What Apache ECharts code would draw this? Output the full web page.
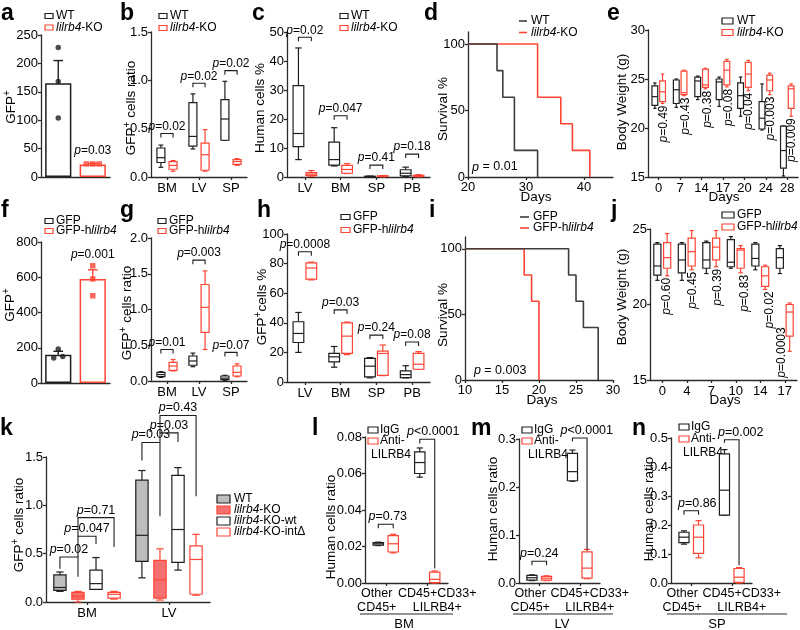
<!DOCTYPE html>
<html><head><meta charset="utf-8">
<script src="https://cdn.jsdelivr.net/npm/echarts@6/dist/echarts.min.js"></script>
<style>html,body{margin:0;padding:0;background:#fff}#c{width:800px;height:630px}</style>
</head><body><div id="c"></div><script>
// ================= DATA =================
// a
const aCats = ['WT', 'KO'];
const aMeans = [165, 22];
const aErrTop = [205, 24];
const aWTPts = [228, 168, 104];
const aKOPts = [23, 23, 23];
const aP = ['=0.03'];
// b
const bCats = ['BM', 'LV', 'SP'];
const bWT = [[0.10,0.15,0.20,0.30,0.33],[0.29,0.32,0.42,0.77,0.86],[0.38,0.38,0.60,0.80,0.99]];
const bKO = [[0.06,0.08,0.12,0.16,0.17],[0.06,0.07,0.23,0.35,0.49],[0.12,0.13,0.16,0.18,0.19]];
const bBr = [[0,0,1,0.45,-1,-1],[1,0,1,0.97,-1,-1],[2,0,1,1.10,-1,-1]];
const bP = ['=0.02','=0.02','=0.02'];
// c
const cCats = ['LV', 'BM', 'SP', 'PB'];
const cWT = [[6,10.5,15,31.5,44.5],[3.8,4.1,6,12,17],[0.1,0.15,0.2,0.25,0.3],[0.2,0.4,1.3,2.5,3.4]];
const cKO = [[0.3,0.5,1,1.5,2.2],[1.2,1.3,2.6,4,4.6],[0.1,0.2,0.3,0.4,0.5],[0.1,0.2,0.4,0.6,0.8]];
const cBr = [[0,0,1,48.2,-1,-1],[1,0,1,21.1,-1,-1],[2,0,1,4.1,-1,-1],[3,0,1,7.9,-1,-1]];
const cP = ['=0.02','=0.047','=0.41','=0.18'];
// d
const dWTDays = [20,25,26,28,32];
const dWTSurv = [100,80,60,20,0];
const dKODays = [20,32,36,38,41];
const dKOSurv = [100,60,40,20,0];
const dP = ['{i|p} = 0.01'];
// e
const eDays = ['0','7','14','17','20','24','28'];
const eWT = [[22,22.3,23.2,24.3,24.6],[22.1,22.5,23.9,24.9,25.0],[22.9,23.2,24.8,25.2,25.3],[22.2,22.9,24.7,25.0,25.2],[21.2,22,23.3,24.6,25.2],[19.8,19.9,21,22.7,24.5],[15.1,15.9,17.7,20.2,20.2]];
const eKO = [[22.5,22.7,23.7,24.8,25.5],[23.3,23.4,23.6,25.8,25.9],[24.0,24.15,24.4,26.0,26.1],[24.2,24.4,25.9,26.8,27.0],[23.8,24.15,25.5,26.7,26.9],[23.4,23.8,24.9,25.4,25.6],[21.2,22.0,24.0,24.3,24.5]];
const eP = ['=0.49','=0.43','=0.38','=0.08','=0.04','=0.003','=0.009'];
// f
const fCats = ['GFP', 'GFP-h'];
const fMeans = [160, 590];
const fErrTop = [180, 642];
const fGFPPts = [193, 142, 151];
const fHPts = [665, 590, 495];
const fP = ['=0.001'];
// g
const gCats = ['BM', 'LV', 'SP'];
const gGFP = [[0.05,0.06,0.09,0.12,0.13],[0.2,0.22,0.28,0.35,0.39],[0.01,0.02,0.04,0.07,0.08]];
const gH = [[0.14,0.15,0.21,0.26,0.30],[0.44,0.68,1.03,1.35,1.54],[0.06,0.07,0.12,0.21,0.24]];
const gBr = [[0,0,1,0.44,-1,-1],[1,0,1,1.69,-1,-1],[2,0,1,0.40,-1,-1]];
const gP = ['=0.01','=0.003','=0.07'];
// h
const hCats = ['LV', 'BM', 'SP', 'PB'];
const hGFP = [[20,26.7,32.8,40.7,47],[10,13.6,17,19.3,24],[2.8,3.4,10.7,15.9,16.5],[2.8,3,5,7.5,11]];
const hH = [[69,69.5,77,80.5,81],[18.5,19.3,31,40,40.5],[4.3,4.5,19.3,20.8,25],[8.5,8.6,12,19.3,20.5]];
const hBr = [[0,0,1,88,-1,-1],[1,0,1,48.7,-1,-1],[2,0,1,31.7,-1,-1],[3,0,1,27,-1,-1]];
const hP = ['=0.0008','=0.03','=0.24','=0.08'];
// i
const iGFPDays = [10,24,25,26,28];
const iGFPSurv = [100,80,60,40,0];
const iHDays = [10,18,19,20];
const iHSurv = [100,80,60,0];
const iP = ['{i|p} = 0.003'];
// j
const jDays = ['0','4','7','10','14','17'];
const jGFP = [[21.6,21.95,22.55,24.0,24.1],[21.6,22.1,22.95,24.0,24.1],[22.05,22.4,22.95,24.1,24.2],[22.4,22.5,22.8,24.3,24.5],[22.3,22.55,23.05,24.0,24.1],[22.05,22.4,23.1,23.7,23.9]];
const jH = [[21.9,22.4,23.1,24.1,24.7],[22.3,22.55,23.5,24.4,24.9],[22.5,22.95,23.8,24.4,24.9],[22.1,22.4,23.6,23.7,23.9],[21.0,21.2,21.9,22.5,22.6],[16.9,17.9,19.5,20.0,20.1]];
const jP = ['=0.60','=0.45','=0.39','=0.83','=0.02','=0.0003'];
// k
const kCats = ['BM', 'LV'];
const kWT = [[0.11,0.12,0.15,0.28,0.31],[0.25,0.42,0.69,1.26,1.36]];
const kKO = [[0.0,0.03,0.06,0.10,0.11],[0.02,0.04,0.23,0.43,0.55]];
const kKOwt = [[0.13,0.13,0.19,0.33,0.46],[0.33,0.41,0.75,1.31,1.39]];
const kKOint = [[0.03,0.04,0.08,0.10,0.11],[0.07,0.08,0.44,0.58,0.70]];
const kBr = [[0,0,1,0.465,0.345,0.26],[0,1,2,0.68,0.465,0.60],[0,1,3,0.873,0.68,0.57],
             [1,0,1,1.65,1.465,0.886],[1,1,2,1.75,1.65,1.655],[1,1,3,1.93,1.75,1.093]];
const kP = ['=0.02','=0.047','=0.71','=0.03','=0.03','=0.43'];
// l, m, n
const lmnCats = ['Other CD45+', 'CD45+CD33+ LILRB4+'];
const lIgG = [[0.0205,0.0207,0.0215,0.0222,0.0224],[0.058,0.060,0.066,0.0718,0.074]];
const lAnti = [[0.0165,0.017,0.0215,0.026,0.0267],[0.0,0.0002,0.002,0.006,0.0066]];
const lBr = [[0,0,1,0.0322,-1,-1],[1,0,1,0.0788,0.0765,0.008]];
const lP = ['=0.73','<0.0001'];
const mIgG = [[0.005,0.006,0.011,0.016,0.017],[0.212,0.213,0.232,0.270,0.277]];
const mAnti = [[0.005,0.006,0.010,0.014,0.015],[0.009,0.010,0.031,0.065,0.070]];
const mBr = [[0,0,1,0.0454,-1,-1],[1,0,1,0.302,0.295,0.068]];
const mP = ['=0.24','<0.0001'];
const nIgG = [[0.134,0.139,0.158,0.175,0.18],[0.234,0.234,0.32,0.445,0.46]];
const nAnti = [[0.087,0.102,0.158,0.2,0.215],[0.0,0.002,0.02,0.05,0.053]];
const nBr = [[0,0,1,0.249,-1,-1],[1,0,1,0.494,0.484,0.061]];
const nP = ['=0.86','=0.002'];

// ================= STYLE / HELPERS =================
const FONT = '"Liberation Sans", Arial, Helvetica, sans-serif';
const BK = '#1e1e1e', RD = '#ff4433', AX = '#2b2b2b', GRF = '#bdbdbd', SAL = '#f57171', SV = '#3d3d3d';

function rich(fs) {
  return {
    i: {fontStyle: 'italic', fontSize: fs, fontFamily: FONT},
    s: {fontSize: Math.round(fs * 0.72), fontFamily: FONT, verticalAlign: 'bottom', padding: [0, 0, Math.round(fs * 0.5), 0]}
  };
}
const grids = [], xAxes = [], yAxes = [], series = [], G = [];
const axisLine = {show: true, onZero: false, lineStyle: {color: AX, width: 1.3}};
const axisTick = {show: true, length: 3, lineStyle: {color: AX, width: 1.3}};
const lab = {color: '#000', fontSize: 13, fontFamily: FONT};

function addGrid(l, t, w, h) { grids.push({left: l, top: t, width: w, height: h}); return grids.length - 1; }
function catX(gi, cats, extra) {
  xAxes.push(Object.assign({type: 'category', gridIndex: gi, data: cats, boundaryGap: true, axisLine,
    axisTick: Object.assign({}, axisTick, {alignWithLabel: true}),
    axisLabel: Object.assign({}, lab, {margin: 5, interval: 0}), splitLine: {show: false}}, extra || {}));
}
function valAx(arr, gi, min, max, interval, dec, extra) {
  arr.push(Object.assign({type: 'value', gridIndex: gi, min, max, interval, axisLine, axisTick,
    axisLabel: Object.assign({}, lab, {margin: 3, formatter: v => dec ? v.toFixed(dec) : String(v)}),
    splitLine: {show: false}}, extra || {}));
}
function boxSeries(gi, rows, frac, wFrac, stroke, fill) {
  return {type: 'custom', xAxisIndex: gi, yAxisIndex: gi, silent: true, z: 3,
    data: rows.map((r, i) => [i].concat(r)), encode: {x: 0, y: [1, 2, 3, 4, 5]},
    renderItem(params, api) {
      const bw = api.size([1, 0])[0];
      const cat = api.value(0);
      const x = api.coord([cat, 0])[0] + frac * bw, w = wFrac * bw, cw = w * 0.6;
      const y = k => api.coord([cat, api.value(k)])[1];
      const yMin = y(1), yQ1 = y(2), yMed = y(3), yQ3 = y(4), yMax = y(5);
      const st = {stroke, lineWidth: 1.2, fill: 'none'};
      return {type: 'group', children: [
        {type: 'line', shape: {x1: x, y1: yMax, x2: x, y2: yQ3}, style: st},
        {type: 'line', shape: {x1: x, y1: yMin, x2: x, y2: yQ1}, style: st},
        {type: 'line', shape: {x1: x - cw / 2, y1: yMax, x2: x + cw / 2, y2: yMax}, style: st},
        {type: 'line', shape: {x1: x - cw / 2, y1: yMin, x2: x + cw / 2, y2: yMin}, style: st},
        {type: 'rect', shape: {x: x - w / 2, y: yQ3, width: w, height: Math.max(yQ1 - yQ3, 0.5)}, style: {stroke, lineWidth: 1.2, fill: fill || '#fff'}},
        {type: 'line', shape: {x1: x - w / 2, y1: yMed, x2: x + w / 2, y2: yMed}, style: st}
      ]};
    }};
}
// textDx: per-bracket horizontal shift of the p label (style)
function bracketSeries(gi, list, labels, offs, fs, textDx) {
  return {type: 'custom', xAxisIndex: gi, yAxisIndex: gi, data: list, clip: false, silent: true, z: 5,
    encode: {x: 0, y: 3},
    renderItem(params, api) {
      const bw = api.size([1, 0])[0];
      const cat = api.value(0);
      const cx = api.coord([cat, 0])[0];
      const xl = cx + offs[api.value(1)] * bw, xr = cx + offs[api.value(2)] * bw;
      const yv = v => api.coord([cat, v])[1];
      const yt = yv(api.value(3));
      const le = api.value(4) < 0 ? yt + 4 : yv(api.value(4));
      const re = api.value(5) < 0 ? yt + 4 : yv(api.value(5));
      const dx = textDx ? textDx[params.dataIndex] : 0;
      return {type: 'group', children: [
        {type: 'polyline', shape: {points: [[xl, le], [xl, yt], [xr, yt], [xr, re]]}, style: {stroke: BK, lineWidth: 1.1, fill: 'none'}},
        {type: 'text', x: (xl + xr) / 2 + dx, y: yt - 1, style: {text: '{i|p}' + labels[params.dataIndex], fontSize: fs, fontFamily: FONT, fill: '#000', align: 'center', verticalAlign: 'bottom', rich: rich(fs)}}
      ]};
    }};
}
// rotated p labels hanging below the lower whisker of the given series
function rotPSeries(gi, rows, labels, fracs, fs, lift) {
  return {type: 'custom', xAxisIndex: gi, yAxisIndex: gi, data: rows.map((r, i) => [i, r[0]]), clip: false, silent: true, z: 5,
    encode: {x: 0, y: 1},
    renderItem(params, api) {
      const bw = api.size([1, 0])[0];
      const k = params.dataIndex;
      const p = api.coord([api.value(0), api.value(1)]);
      return {type: 'text', x: p[0] + fracs[k] * bw, y: p[1] + 2 - (lift ? lift[k] : 0), rotation: Math.PI / 2,
        style: {text: '{i|p}' + labels[k], fontSize: fs, fontFamily: FONT, fill: '#000', align: 'right', verticalAlign: 'middle', rich: rich(fs)}};
    }};
}
function errSeries(gi, means, tops, colors) {
  return {type: 'custom', xAxisIndex: gi, yAxisIndex: gi, silent: true, z: 4,
    data: means.map((m, i) => [i, m, tops[i]]), encode: {x: 0, y: [1, 2]},
    renderItem(params, api) {
      const bw = api.size([1, 0])[0];
      const p1 = api.coord([api.value(0), api.value(1)]);
      const p2 = api.coord([api.value(0), api.value(2)]);
      const cw = bw * 0.28;
      const st = {stroke: colors[params.dataIndex], lineWidth: 1.4};
      return {type: 'group', children: [
        {type: 'line', shape: {x1: p1[0], y1: p1[1], x2: p2[0], y2: p2[1]}, style: st},
        {type: 'line', shape: {x1: p2[0] - cw / 2, y1: p2[1], x2: p2[0] + cw / 2, y2: p2[1]}, style: st}
      ]};
    }};
}
function barSeries(gi, means, colors) {
  return {type: 'bar', xAxisIndex: gi, yAxisIndex: gi, barWidth: '76%', silent: true, z: 2,
    data: means.map((m, i) => ({value: m, itemStyle: {color: '#fff', borderColor: colors[i], borderWidth: 1.5}}))};
}
function dotSeries(gi, cat, vals, offs, color, symbol) {
  return {type: 'scatter', xAxisIndex: gi, yAxisIndex: gi, silent: true, z: 6, symbol: symbol, symbolSize: 5.5,
    itemStyle: {color: color},
    data: vals.map((v, k) => ({value: [cat, v], symbolOffset: [offs[k], 0]}))};
}
function survSeries(gi, days, surv, color) {
  return {type: 'line', xAxisIndex: gi, yAxisIndex: gi, step: 'end', symbol: 'none', silent: true,
    lineStyle: {color, width: 1.6}, data: days.map((d, k) => [d, surv[k]])};
}
// graphic helpers
function textEl(x, y, text, o) {
  o = o || {};
  const fs = o.fs || 12;
  return {type: 'text', x, y, rotation: o.rot || 0, silent: true,
    style: {text, fontSize: fs, fontFamily: FONT, fontWeight: o.fw || 'normal', fill: '#000',
      align: o.align || 'center', verticalAlign: o.va || 'middle', rich: rich(fs)}};
}
function T(x, y, text, o) { G.push(textEl(x, y, text, o)); }
function legend(x, y0, dy, items, iw, ih, gap) {
  items.forEach((it, k) => {
    const y = y0 + k * dy;
    if (it[3] === 'line') G.push({type: 'line', silent: true, shape: {x1: x, y1: y, x2: x + iw, y2: y}, style: {stroke: it[1], lineWidth: 1.6}});
    else G.push({type: 'rect', silent: true, shape: {x: x, y: y - ih / 2, width: iw, height: ih}, style: {stroke: it[1], fill: it[2] || '#fff', lineWidth: 1.2}});
    T(x + iw + gap, y, it[0], {align: 'left', fs: 12});
  });
}
function yName(x, y, text) { T(x, y, text, {rot: Math.PI / 2, fs: 13.5}); }
function letter(x, y, ch) { T(x, y, ch, {fs: 23, fw: 'bold', align: 'left', va: 'bottom'}); }

// annotations anchored in data space (converted through the grid's scales after layout)
const ANN = [];

// ================= PANELS =================
const OFF2 = [-0.19, 0.19];
// a
let gi = addGrid(41, 35, 69, 142);
catX(gi, aCats, {axisLabel: {show: false}, axisTick: {show: false}});
valAx(yAxes, gi, 0, 250, 50, 0);
series.push(barSeries(gi, aMeans, [BK, RD]), errSeries(gi, aMeans, aErrTop, [BK, RD]),
  dotSeries(gi, 0, aWTPts, [0, 0, 0], BK, 'circle'), dotSeries(gi, 1, aKOPts, [-6.5, 0, 6.5], RD, 'rect'));
ANN.push([gi, [1, 47], '{i|p}' + aP[0], 'center', 12]);
// b
gi = addGrid(151, 32, 96, 145);
catX(gi, bCats); valAx(yAxes, gi, 0, 1.5, 0.5, 1);
series.push(boxSeries(gi, bWT, OFF2[0], 0.25, BK), boxSeries(gi, bKO, OFF2[1], 0.25, RD), bracketSeries(gi, bBr, bP, OFF2, 12));
// c
gi = addGrid(287, 32, 143, 145);
catX(gi, cCats); valAx(yAxes, gi, 0, 50, 10, 0);
series.push(boxSeries(gi, cWT, -0.18, 0.3, BK), boxSeries(gi, cKO, 0.18, 0.3, RD), bracketSeries(gi, cBr, cP, [-0.18, 0.18], 12));
// d
gi = addGrid(468, 32, 145, 145);
valAx(xAxes, gi, 20, 45, 10, 0, {axisLabel: Object.assign({}, lab, {margin: 4, customValues: [20, 30, 40]}), axisTick: Object.assign({}, axisTick, {customValues: [20, 30, 40]})});
valAx(yAxes, gi, 0, 109, 50, 0, {axisLabel: Object.assign({}, lab, {margin: 3, customValues: [0, 50, 100]}), axisTick: Object.assign({}, axisTick, {customValues: [0, 50, 100]})});
series.push(survSeries(gi, dKODays, dKOSurv, RD), survSeries(gi, dWTDays, dWTSurv, SV));
ANN.push([gi, [20.7, 7.5], dP[0], 'left', 12.5]);
// e
gi = addGrid(648, 30, 150, 147);
catX(gi, eDays); valAx(yAxes, gi, 15, 30, 5, 0);
series.push(boxSeries(gi, eWT, -0.18, 0.27, BK), boxSeries(gi, eKO, 0.18, 0.27, RD),
  rotPSeries(gi, eKO, eP, [0.25, 0.27, 0.3, 0.28, 0.22, 0.24, 0.22], 12));
// f
gi = addGrid(41, 242, 69, 141);
catX(gi, fCats, {axisLabel: {show: false}, axisTick: {show: false}});
valAx(yAxes, gi, 0, 800, 200, 0);
series.push(barSeries(gi, fMeans, [BK, RD]), errSeries(gi, fMeans, fErrTop, [BK, RD]),
  dotSeries(gi, 0, fGFPPts, [0, -4.5, 4.5], BK, 'circle'), dotSeries(gi, 1, fHPts, [0, 0, 0], RD, 'rect'));
ANN.push([gi, [1, 726], '{i|p}' + fP[0], 'center', 12]);
// g
gi = addGrid(151, 238, 96, 143);
catX(gi, gCats); valAx(yAxes, gi, 0, 2, 0.5, 1);
series.push(boxSeries(gi, gGFP, OFF2[0], 0.25, BK), boxSeries(gi, gH, OFF2[1], 0.25, RD), bracketSeries(gi, gBr, gP, OFF2, 12));
// h
gi = addGrid(287, 234, 143, 148);
catX(gi, hCats); valAx(yAxes, gi, 0, 100, 20, 0);
series.push(boxSeries(gi, hGFP, -0.18, 0.3, BK), boxSeries(gi, hH, 0.18, 0.3, RD), bracketSeries(gi, hBr, hP, [-0.18, 0.18], 12));
// i
gi = addGrid(465, 237, 148, 143);
valAx(xAxes, gi, 10, 30, 5, 0, {axisLabel: Object.assign({}, lab, {margin: 4})});
valAx(yAxes, gi, 0, 109, 50, 0, {axisLabel: Object.assign({}, lab, {margin: 3, customValues: [0, 50, 100]}), axisTick: Object.assign({}, axisTick, {customValues: [0, 50, 100]})});
series.push(survSeries(gi, iHDays, iHSurv, RD), survSeries(gi, iGFPDays, iGFPSurv, SV));
ANN.push([gi, [11.2, 7.5], iP[0], 'left', 12.5]);
// j
gi = addGrid(650, 229, 147, 151);
catX(gi, jDays); valAx(yAxes, gi, 15, 25, 5, 0);
series.push(boxSeries(gi, jGFP, -0.2, 0.29, BK), boxSeries(gi, jH, 0.2, 0.29, RD),
  rotPSeries(gi, jH, jP, [0.2, 0.25, 0.27, 0.37, 0.39, -0.12], 12, [0, 0, 0, 0, 0, 26]));
// k
const OFF4 = [-0.33, -0.11, 0.11, 0.33];
gi = addGrid(46, 457, 164, 145);
catX(gi, kCats); valAx(yAxes, gi, 0, 1.5, 0.5, 1);
series.push(boxSeries(gi, kWT, OFF4[0], 0.15, BK, GRF), boxSeries(gi, kKO, OFF4[1], 0.15, RD, SAL),
  boxSeries(gi, kKOwt, OFF4[2], 0.15, BK), boxSeries(gi, kKOint, OFF4[3], 0.15, RD), bracketSeries(gi, kBr, kP, OFF4, 12.5));
// l m n
const lmnLabel = {
  formatter: (v, idx) => idx === 0 ? '{l|Other}\n{l|CD45+}' : '{r|CD45+CD33+}\n{r|LILRB4+}',
  rich: {l: {fontSize: 12.5, fontFamily: FONT, lineHeight: 14, padding: [0, 18, 0, 0]}, r: {fontSize: 12.5, fontFamily: FONT, lineHeight: 14, padding: [0, 0, 0, 20]}},
  margin: 4, interval: 0, color: '#000'
};
const OFFL = [-0.18, 0.18];
[[365, 437, 83, 146, lIgG, lAnti, lBr, lP, 0.08, 0.02, 2, [2, 6]], [519, 439, 81, 144, mIgG, mAnti, mBr, mP, 0.3, 0.1, 1, [0, 7]], [671, 438, 81, 145, nIgG, nAnti, nBr, nP, 0.5, 0.1, 1, [6, 9]]]
.forEach(q => {
  const g2 = addGrid(q[0], q[1], q[2], q[3]);
  catX(g2, lmnCats, {axisLabel: lmnLabel});
  valAx(yAxes, g2, 0, q[8], q[9], q[10]);
  series.push(boxSeries(g2, q[4], OFFL[0], 0.25, BK), boxSeries(g2, q[5], OFFL[1], 0.25, RD), bracketSeries(g2, q[6], q[7], OFFL, 12.5, q[11]));
});

// ================= TEXT / LEGENDS =================
letter(1, 25, 'a'); letter(120, 25, 'b'); letter(252, 25, 'c'); letter(424, 25, 'd'); letter(607, 25, 'e');
letter(1, 222, 'f'); letter(120, 222, 'g'); letter(257, 222, 'h'); letter(429, 222, 'i'); letter(611, 222, 'j');
letter(0, 440, 'k'); letter(312, 440, 'l'); letter(471, 440, 'm'); letter(632, 440, 'n');

yName(11, 107, 'GFP{s|+}'); yName(131, 108, 'GFP{s|+} cells ratio'); yName(260, 108, 'Human cells %');
yName(443, 109, 'Survival %'); yName(622, 102, 'Body Weight (g)');
yName(10, 305, 'GFP{s|+}'); yName(127, 313, 'GFP{s|+} cells ratio'); yName(262, 307, 'GFP{s|+}cells %');
yName(443, 315, 'Survival %'); yName(622, 297, 'Body Weight (g)');
yName(19, 525, 'GFP{s|+} cells ratio'); yName(331, 527, 'Human cells ratio'); yName(493, 509, 'Human cells ratio'); yName(649, 509, 'Human cells ratio');

T(536, 197, 'Days', {fs: 13.5}); T(724, 197, 'Days', {fs: 13.5});
T(542, 400, 'Days', {fs: 13.5}); T(725, 400, 'Days', {fs: 13.5});

// group underlines
[[360, 453, 404, 'BM'], [513, 613, 562, 'LV'], [667, 787, 717, 'SP']].forEach(u => {
  G.push({type: 'line', silent: true, shape: {x1: u[0], y1: 614, x2: u[1], y2: 614}, style: {stroke: AX, lineWidth: 1.2}});
  T(u[2], 624, u[3], {fs: 13});
});

legend(45, 16, 11.5, [['WT', BK], ['{i|lilrb4}-KO', RD]], 8, 5, 3);
legend(159, 16, 12, [['WT', BK], ['{i|lilrb4}-KO', RD]], 8, 5, 3);
legend(340, 16, 12, [['WT', BK], ['{i|lilrb4}-KO', RD]], 8, 5, 3);
legend(519, 21, 11.5, [['WT', SV, null, 'line'], ['{i|lilrb4}-KO', RD, null, 'line']], 8, 5, 4);
legend(722, 21, 11.5, [['WT', BK], ['{i|lilrb4}-KO', RD]], 11, 6, 4);
legend(45, 221, 10, [['GFP', BK], ['GFP-h{i|lilrb4}', RD]], 8, 5, 3);
legend(158, 221, 10, [['GFP', BK], ['GFP-h{i|lilrb4}', RD]], 8, 5, 3);
legend(341, 217, 13, [['GFP', BK], ['GFP-h{i|lilrb4}', RD]], 9, 5, 3);
legend(520, 217, 11, [['GFP', SV, null, 'line'], ['GFP-h{i|lilrb4}', RD, null, 'line']], 9, 5, 4);
legend(722, 215, 12, [['GFP', BK], ['GFP-h{i|lilrb4}', RD]], 12, 6, 3);
legend(217, 499, 11, [['WT', BK, GRF], ['{i|lilrb4}-KO', RD, SAL], ['{i|lilrb4}-KO-wt', BK], ['{i|lilrb4}-KO-intΔ', RD]], 13, 8, 4);
legend(368, 430, 11, [['IgG', BK], ['Anti-', RD]], 10, 6, 2); T(371, 455, 'LILRB4', {align: 'left'});
legend(522, 430, 11, [['IgG', BK], ['Anti-', RD]], 10, 6, 2); T(528, 455, 'LILRB4', {align: 'left'});
legend(679, 427, 12, [['IgG', BK], ['Anti-', RD]], 10, 6, 2); T(683, 453, 'LILRB4', {align: 'left'});

const chart = echarts.init(document.getElementById('c'));
chart.setOption({animation: false, grid: grids, xAxis: xAxes, yAxis: yAxes, series: series, graphic: {elements: G}});
// place data-anchored p annotations through the grids' scales
ANN.forEach(a => {
  const p = chart.convertToPixel({gridIndex: a[0]}, a[1]);
  G.push(textEl(p[0], p[1], a[2], {align: a[3], fs: a[4]}));
});
chart.setOption({graphic: {elements: G}});
</script></body></html>
